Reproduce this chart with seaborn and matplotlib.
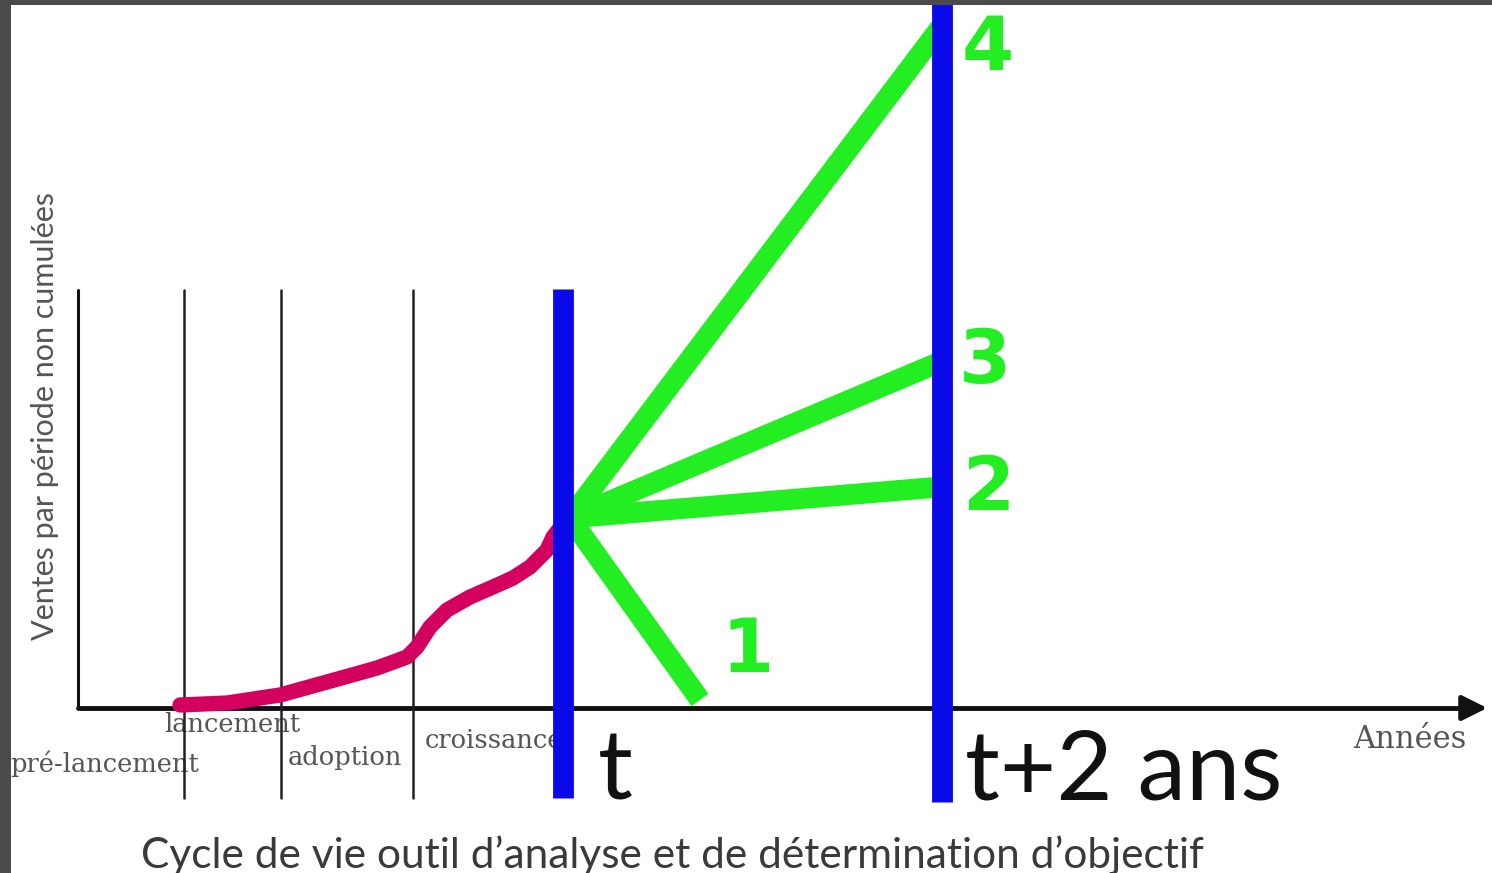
import numpy as np
import pandas as pd
import matplotlib
matplotlib.use("Agg")
import matplotlib.pyplot as plt
import seaborn as sns

# phase boundaries and key years (x in horizontal units, y in sales units)
phase_x = [106, 203, 335]
phase_top, phase_bottom = 418, -90
t_x, t2_x = 485, 864
t_top, t2_top = 419, 708
blue_bottom = [-90, -94]

# sales curve up to year t
curve_x = [102, 149, 202, 249, 299, 329, 339, 352, 369, 392, 415, 435, 452, 469, 475, 482]
curve_y = [3, 5, 13, 26, 40, 51, 61, 81, 98, 111, 121, 130, 141, 158, 171, 180]

# four scenarios from t to t+2
start = (492, 190)
scen_labels = ['1', '2', '3', '4']
scen_end_x = [622, 862, 862, 862]
scen_end_y = [8, 221, 346, 680]
scen_lab_x = [670, 910, 907, 910]
scen_lab_y = [56, 218, 345, 658]

phase_names = ['pré-lancement', 'lancement', 'adoption', 'croissance']
phase_lab_x = [27, 154, 267, 347]
phase_lab_y = [-56, -16, -49, -32]

sns.set_theme(style="white")
plt.rcParams['font.family'] = ['DejaVu Sans']

fig = plt.figure(figsize=(14.92, 8.73), dpi=100)
ax = fig.add_axes([0, 0, 1, 1])
ax.set_xlim(-78, 1414)
ax.set_ylim(-165, 708)
ax.axis('off')

blue = '#0a0ae8'
green = '#22ee22'
pink = '#d4005f'

# axes
ax.plot([0, 0], [0, phase_top], color='#111111', lw=2.2, zorder=2)
ax.plot([0, 1390], [0, 0], color='#111111', lw=3.5, zorder=2)
ax.annotate('', xy=(1412, 0), xytext=(1380, 0),
            arrowprops=dict(arrowstyle='-|>', color='#111111', lw=3.5, mutation_scale=38))

for x in phase_x:
    ax.plot([x, x], [phase_bottom, phase_top], color='#222222', lw=1.8, zorder=2)

# sales curve
curve = pd.DataFrame({'x': curve_x, 'y': curve_y})
sns.lineplot(data=curve, x='x', y='y', ax=ax, color=pink, lw=11,
             solid_capstyle='round', solid_joinstyle='round', zorder=3)

# scenarios
for ex, ey in zip(scen_end_x, scen_end_y):
    ax.plot([start[0], ex], [start[1], ey], color=green, lw=15,
            solid_capstyle='butt', zorder=3)
for lab, lx, ly in zip(scen_labels, scen_lab_x, scen_lab_y):
    ax.text(lx, ly, lab, color=green, fontsize=54, fontweight='bold',
            ha='center', va='center', family='DejaVu Sans', zorder=5)

# year markers
ax.plot([t_x, t_x], [blue_bottom[0], t_top], color=blue, lw=15, solid_capstyle='butt', zorder=4)
ax.plot([t2_x, t2_x], [blue_bottom[1], t2_top], color=blue, lw=15, solid_capstyle='butt', zorder=4)

ax.text(520, -92, 't', fontsize=70, color='#111111', ha='left', va='baseline', family='Lato')
ax.text(887, -92, 't+2 ans', fontsize=70, color='#111111', ha='left', va='baseline', family='Lato')

# phase labels
for name, lx, ly in zip(phase_names, phase_lab_x, phase_lab_y):
    ha = 'left' if name == 'croissance' else 'center'
    ax.text(lx, ly, name, fontsize=18.5, color='#555555', ha=ha, va='center',
            family='DejaVu Serif', zorder=1)

ax.text(1332, -32, 'Années', fontsize=22, color='#555555', ha='center', va='center',
        family='DejaVu Serif')
ax.text(-33, 292, 'Ventes par période non cumulées', fontsize=22, color='#555555',
        rotation=90, ha='center', va='center', family='Lato')
ax.text(594, -147, "Cycle de vie outil d’analyse et de détermination d’objectif",
        fontsize=30.5, color='#3a3a3a', ha='center', va='center', family='Lato')

# dark frame on left and top
ax.axvspan(-78, -67, color='#4a4a4a', zorder=10, lw=0)
ax.axhspan(703, 708, color='#4a4a4a', zorder=10, lw=0)

fig.savefig('out.png', dpi=100, facecolor='white')
